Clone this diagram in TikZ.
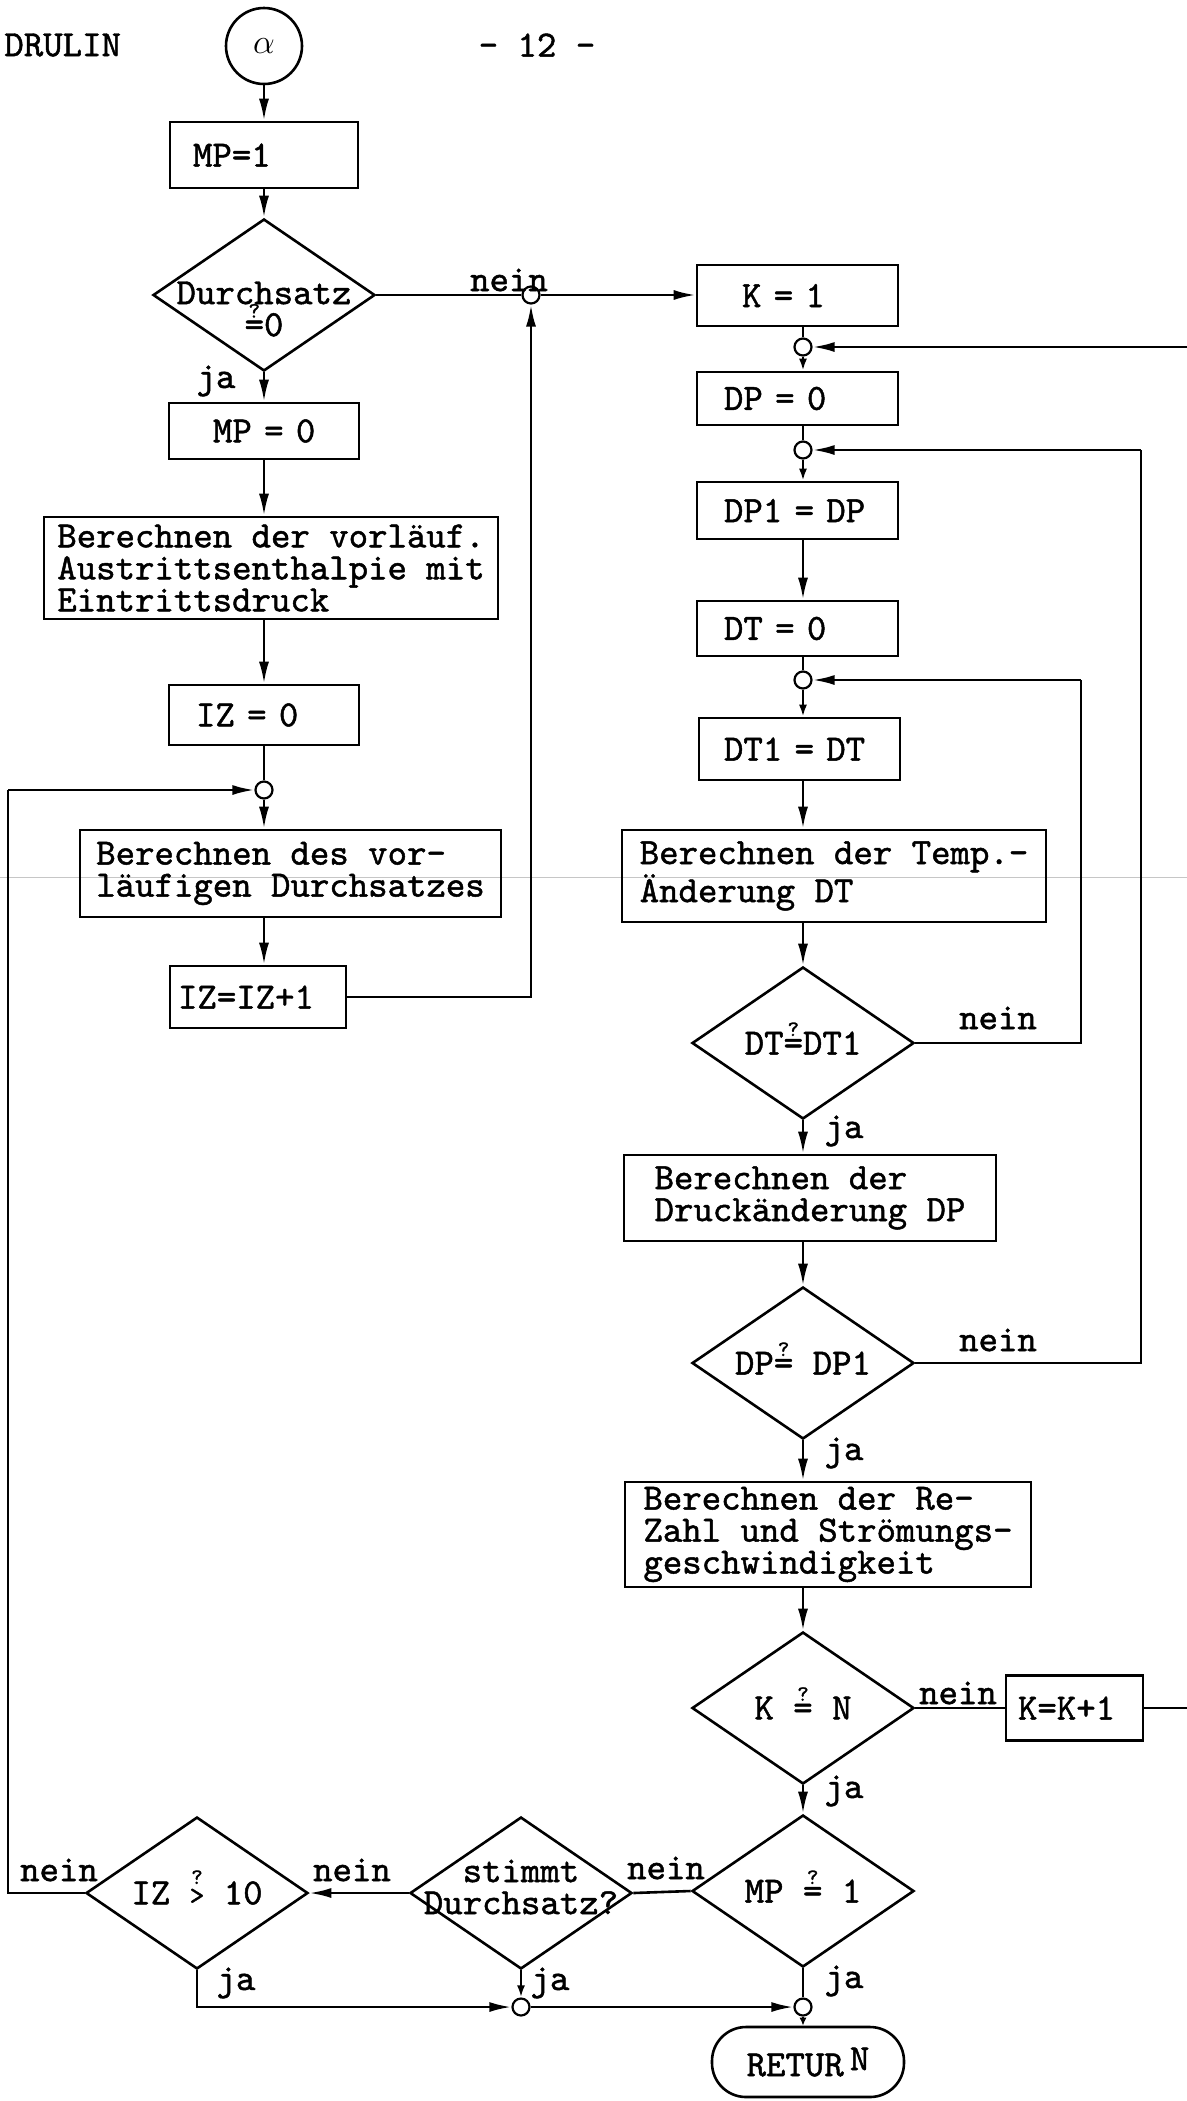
\documentclass[tikz,border=0pt]{standalone}
\usepackage{fontspec}
\newfontfamily\twfont{lmmono10-regular.otf}[FakeBold=1.3]
\usetikzlibrary{shapes.geometric,arrows.meta}
\newcommand\qeq{\ooalign{\hfil=\hfil\cr\hfil\raisebox{.5em}{\fontsize{11pt}{11pt}\selectfont ?}\hfil\cr}}
\newcommand\qgt{\ooalign{\hfil{\fontsize{14pt}{14pt}\selectfont >}\hfil\cr\hfil\raisebox{.55em}{\fontsize{11pt}{11pt}\selectfont ?}\hfil\cr}}
\begin{document}
\begin{tikzpicture}[x=0.5pt,y=-0.5pt,
  every node/.style={font=\twfont\fontsize{18.5pt}{16pt}\selectfont},
  ln/.style={line width=1.3pt},
  arr/.style={ln,-{Latex[length=11pt,width=5pt]}},
  sarr/.style={ln,-{Latex[length=6pt,width=4pt]}},
  tarr/.style={ln,-{Latex[length=4pt,width=3.5pt]}},
  sbox/.style n args={2}{draw,line width=1.3pt,inner sep=0pt,text width=#1,minimum height=#2,align=left},
  lbox/.style n args={2}{draw,line width=1.3pt,inner sep=0pt,minimum width=#1,minimum height=#2,align=left},
  dia/.style={diamond,draw,line width=1.3pt,minimum width=111pt,minimum height=76pt,inner sep=0pt},
  jn/.style={circle,draw,line width=1.1pt,fill=white,minimum size=8.5pt,inner sep=0pt},
  lab/.style={inner sep=0pt,align=center}]
\useasboundingbox (0,0) rectangle (1187,2101);
% scan line
\draw[gray!45,line width=0.5pt] (0,877) -- (1187,877);
% header
\node[anchor=west,inner sep=0pt] (drulin) at (4,45) {DRULIN};
\node[inner sep=0pt] (pageno) at (537,45) {- 12 -};
\node[circle,draw,line width=1.3pt,minimum size=38pt,inner sep=0pt] (alpha) at (264,46) {$\alpha$};
% left column
\node[sbox={94pt}{33pt}] (mp1) at (264,155) {\hspace*{11.5pt}MP=1};
\node[dia,label={[lab,yshift=-7pt]center:{Durchsatz\\\qeq0}}] (dz) at (264,295) {};
\node[jn] (jA) at (531,295) {};
\node[sbox={95pt}{28pt}] (mp0) at (264,431) {\hspace*{22pt}MP~=~0};
\node[lbox={227pt}{51pt}] (vorl) at (271,568) {Berechnen der vorläuf.\\Austrittsenthalpie mit\\Eintrittsdruck};
\node[sbox={95pt}{30pt}] (iz0) at (264,715) {\hspace*{13.5pt}IZ~=~0};
\node[jn] (j0) at (264,790) {};
\node[lbox={210.5pt}{43.5pt}] (desv) at (290.5,873.5) {Berechnen des vor-\\läufigen Durchsatzes};
\node[sbox={88pt}{31pt}] (izp) at (258,997) {\hspace*{4pt}IZ=IZ+1};
% right column
\node[sbox={100.5pt}{30.5pt}] (k1) at (797.5,295.5) {\hspace*{22.5pt}K~=~1};
\node[jn] (j1) at (803,347) {};
\node[sbox={100.5pt}{26.5pt}] (dp0) at (797.5,398.5) {\hspace*{13.5pt}DP~=~0};
\node[jn] (j2) at (803,450) {};
\node[sbox={100.5pt}{28.5pt}] (dp1) at (797.5,510.5) {\hspace*{13.5pt}DP1~=~DP};
\node[sbox={100.5pt}{27.5pt}] (dt0) at (797.5,628.5) {\hspace*{13.5pt}DT~=~0};
\node[jn] (j3) at (803,680) {};
\node[sbox={100.5pt}{31pt}] (dt1) at (799.5,749) {\hspace*{12.5pt}DT1~=~DT};
\node[lbox={212pt}{46pt}] (temp) at (834,876) {Berechnen der Temp.-\\Änderung DT};
\node[dia,label={[lab]center:{DT\qeq DT1}}] (dt) at (803,1043) {};
\node[lbox={186pt}{43pt}] (druck) at (810,1198) {Berechnen der\\Druckänderung DP};
\node[dia,label={[lab]center:{DP\qeq\ DP1}}] (dp) at (803,1363) {};
\node[lbox={203pt}{52.5pt}] (re) at (828,1534.5) {Berechnen der Re-\\Zahl und Strömungs-\\geschwindigkeit};
\node[dia,label={[lab]center:{K \qeq\ N}}] (kn) at (803,1708) {};
\node[sbox={68.5pt}{32.5pt}] (kk1) at (1074.5,1708) {\hspace*{6pt}K=K+1};
\node[dia,label={[lab]center:{MP \qeq\ 1}}] (mp) at (803,1891) {};
\node[jn] (j4) at (803,2007) {};
\node[draw,line width=1.3pt,rounded corners=17pt,minimum width=96pt,minimum height=35pt,inner sep=0pt] (ret) at (808,2062) {RETUR\,\raisebox{3pt}{N}};
% bottom row
\node[dia,label={[lab,yshift=3pt]center:{stimmt\\Durchsatz?}}] (st) at (521,1893) {};
\node[dia,label={[lab]center:{IZ \qgt\ 10}}] (iz) at (197,1893) {};
\node[jn] (j5) at (521,2007) {};
% helper coordinates
\coordinate (cR1) at (1187,347);
\coordinate (cR2) at (1187,1708);
\coordinate (cDP) at (1141,450);
\coordinate (cDT) at (1081,680);
\coordinate (cL) at (8,790);
% connectors left
\draw[arr] (alpha) -- (mp1);
\draw[arr] (mp1) -- (dz);
\draw[arr] (dz) -- (mp0);
\draw[arr] (mp0) -- (mp0 |- vorl.north);
\draw[arr] (iz0 |- vorl.south) -- (iz0);
\draw[ln] (iz0) -- (j0);
\draw[arr] (j0) -- (j0 |- desv.north);
\draw[arr] (j0 |- desv.south) -- (j0 |- izp.north);
\draw[arr] (izp.east) -| (jA);
\draw[ln] (dz.east) -- (jA);
\draw[arr] (jA) -- (k1.west |- jA);
% connectors right
\draw[ln] (k1.south -| j1) -- (j1);
\draw[arr] (cR1) -- (j1);
\draw[sarr] (j1) -- (j1 |- dp0.north);
\draw[ln] (j2 |- dp0.south) -- (j2);
\draw[arr] (cDP) -- (j2);
\draw[sarr] (j2) -- (j2 |- dp1.north);
\draw[arr] (j2 |- dp1.south) -- (j2 |- dt0.north);
\draw[ln] (j3 |- dt0.south) -- (j3);
\draw[arr] (cDT) -- (j3);
\draw[sarr] (j3) -- (j3 |- dt1.north);
\draw[arr] (j3 |- dt1.south) -- (j3 |- temp.north);
\draw[arr] (dt |- temp.south) -- (dt);
\draw[ln] (dt.east) -| (cDT);
\draw[arr] (dt) -- (dt |- druck.north);
\draw[arr] (dp |- druck.south) -- (dp);
\draw[ln] (dp.east) -| (cDP);
\draw[arr] (dp) -- (dp |- re.north);
\draw[arr] (kn |- re.south) -- (kn);
\draw[ln] (kn.east) -- (kk1.west);
\draw[ln] (kk1.east) -- (cR2);
\draw[arr] (kn) -- (mp);
\draw[ln] (mp) -- (j4);
\draw[tarr] (j4) -- (j4 |- ret.north);
% bottom connectors
\draw[ln] (mp.west) -- (st.east);
\draw[arr] (st.west) -- (iz.east);
\draw[sarr] (st) -- (j5);
\draw[arr] (iz.south) |- (j5);
\draw[arr] (j5) -- (j4);
\draw[ln] (iz.west) -| (cL);
\draw[arr] (cL) -- (j0);
% labels
\node[lab] (l1) at (509,280) {nein};
\node[lab] (l2) at (216,381) {ja};
\node[lab] (l3) at (998,1018) {nein};
\node[lab] (l4) at (844,1131) {ja};
\node[lab] (l5) at (998,1340) {nein};
\node[lab] (l6) at (844,1453) {ja};
\node[lab] (l7) at (958,1693) {nein};
\node[lab] (l8) at (844,1791) {ja};
\node[lab] (l9) at (666,1868) {nein};
\node[lab] (l10) at (844,1981) {ja};
\node[lab] (l11) at (352,1870) {nein};
\node[lab] (l12) at (59,1870) {nein};
\node[lab] (l13) at (236,1983) {ja};
\node[lab] (l14) at (550,1983) {ja};
\end{tikzpicture}
\end{document}
